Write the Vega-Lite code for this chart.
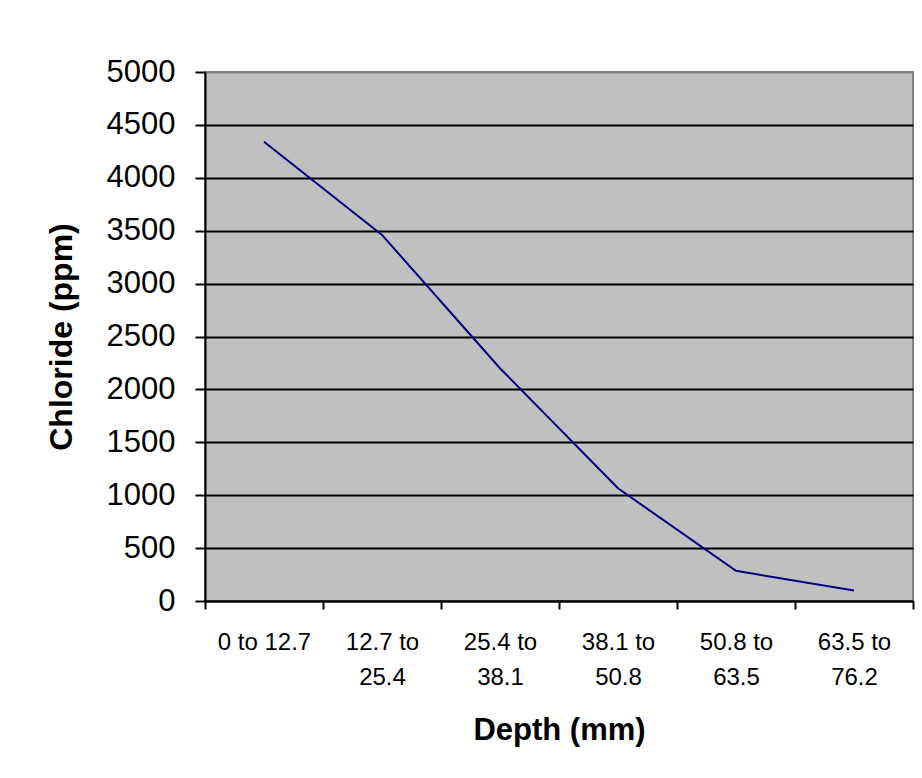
{
  "$schema": "https://vega.github.io/schema/vega-lite/v6.json",
  "autosize": {"type": "none"},
  "padding": {"left": 205, "top": 72, "right": 9, "bottom": 177},
  "width": 708,
  "height": 529,
  "background": "white",
  "config": {
    "font": "Liberation Sans",
    "view": {"fill": "#c0c0c0", "stroke": "#808080", "strokeWidth": 2}
  },
  "data": {
    "values": [
      {"depth": "0 to 12.7", "chloride": 4340},
      {"depth": "12.7 to 25.4", "chloride": 3460},
      {"depth": "25.4 to 38.1", "chloride": 2200},
      {"depth": "38.1 to 50.8", "chloride": 1065},
      {"depth": "50.8 to 63.5", "chloride": 285},
      {"depth": "63.5 to 76.2", "chloride": 100}
    ]
  },
  "mark": {"type": "line", "color": "#000080", "strokeWidth": 2},
  "encoding": {
    "x": {
      "field": "depth",
      "type": "nominal",
      "sort": null,
      "scale": {"paddingInner": 0, "paddingOuter": 0},
      "axis": {
        "title": "Depth (mm)",
        "titleFontSize": 31,
        "titleFontWeight": "bold",
        "titleColor": "black",
        "titlePadding": 26,
        "labelAngle": 0,
        "labelFontSize": 24,
        "labelColor": "black",
        "labelPadding": 21,
        "labelLineHeight": 35,
        "labelExpr": "!datum.label || datum.label == '0 to 12.7' ? datum.label : [split(datum.label, ' to ')[0] + ' to', split(datum.label, ' to ')[1]]",
        "tickBand": "extent",
        "tickSize": 8,
        "tickColor": "black",
        "tickWidth": 2,
        "domainColor": "black",
        "domainWidth": 2,
        "grid": false
      }
    },
    "y": {
      "field": "chloride",
      "type": "quantitative",
      "scale": {"domain": [0, 5000], "nice": false},
      "axis": {
        "title": "Chloride (ppm)",
        "titleFontSize": 32,
        "titleFontWeight": "bold",
        "titleColor": "black",
        "titlePadding": 28,
        "values": [0, 500, 1000, 1500, 2000, 2500, 3000, 3500, 4000, 4500, 5000],
        "format": "d",
        "labelFontSize": 31,
        "labelColor": "black",
        "labelPadding": 20,
        "tickSize": 10,
        "tickColor": "black",
        "tickWidth": 2,
        "domainColor": "black",
        "domainWidth": 2,
        "grid": true,
        "gridColor": {"condition": {"test": "datum.value == 5000", "value": "#808080"}, "value": "black"},
        "gridWidth": 2,
        "gridOpacity": 1
      }
    }
  }
}
